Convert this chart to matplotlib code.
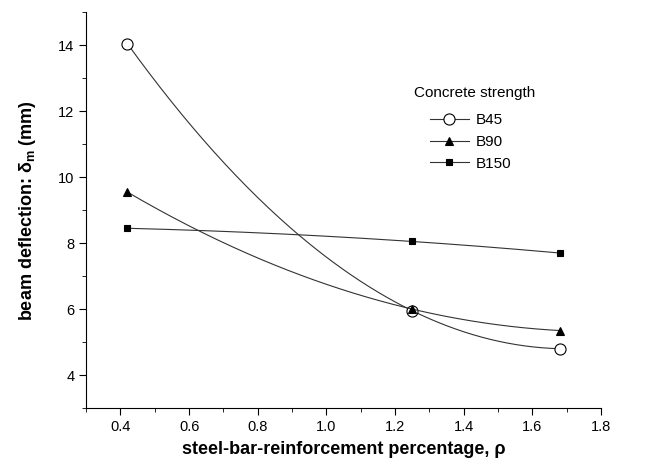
import numpy as np
import matplotlib
matplotlib.use("Agg")
import matplotlib.pyplot as plt
from matplotlib.ticker import MultipleLocator

plt.rcParams['font.family'] = ['Liberation Sans', 'DejaVu Sans']

# reinforcement ratio (%)
rho = [0.42, 1.25, 1.68]
# beam deflection (mm) per concrete strength
b45 = [14.05, 5.95, 4.8]
b90 = [9.55, 6.0, 5.35]
b150 = [8.45, 8.05, 7.7]

series = [("B45", b45, "o", "white", 8),
          ("B90", b90, "^", "black", 6),
          ("B150", b150, "s", "black", 5)]

fig = plt.figure(figsize=(6.52, 4.68), dpi=100)
ax = fig.add_axes([0.132, 0.128, 0.79, 0.846])

xs = np.linspace(rho[0], rho[-1], 200)
handles = []
for name, y, m, fc, ms in series:
    # smooth curve through the three points
    c = np.polyfit(rho, y, 2)
    ax.plot(xs, np.polyval(c, xs), color="#333333", lw=0.8)
    ax.plot(rho, y, ls="none", marker=m, mfc=fc, mec="black", ms=ms, mew=0.8)
    h, = ax.plot([], [], color="#333333", lw=0.8, marker=m, mfc=fc,
                 mec="black", ms=ms, mew=0.8)
    handles.append((h, name))

ax.text(0.636, 0.797, "Concrete strength", transform=ax.transAxes,
        fontsize=11, va="center")
ax.legend([h for h, _ in handles], [n for _, n in handles],
          loc="upper left", bbox_to_anchor=(0.655, 0.76), frameon=False,
          fontsize=11, handlelength=2.6, labelspacing=0.5,
          borderaxespad=0, handletextpad=0.4)

ax.set_xlim(0.3, 1.8)
ax.set_ylim(3, 15)
ax.xaxis.set_minor_locator(MultipleLocator(0.1))
ax.yaxis.set_minor_locator(MultipleLocator(1))
ax.set_yticks([4, 6, 8, 10, 12, 14])
ax.set_xticks([0.4, 0.6, 0.8, 1.0, 1.2, 1.4, 1.6, 1.8])
ax.spines['top'].set_visible(False)
ax.spines['right'].set_visible(False)
ax.tick_params(which="major", direction="out", length=5, labelsize=10.5)
ax.tick_params(which="minor", direction="out", length=3)

ax.set_xlabel("steel-bar-reinforcement percentage, \u03c1", fontsize=13,
              fontweight="bold", labelpad=5)
ax.set_ylabel("beam deflection: \u03b4$_\\mathregular{m}$ (mm)", fontsize=13,
              fontweight="bold", labelpad=14)

fig.savefig("out.png", dpi=100)
